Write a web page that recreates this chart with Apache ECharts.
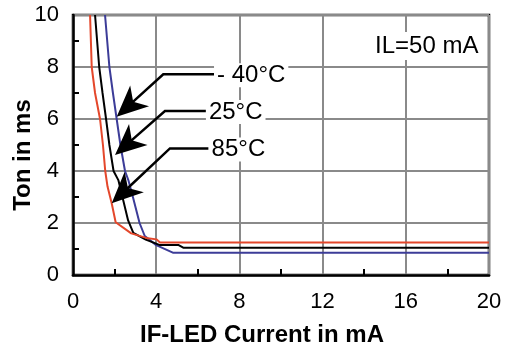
<!DOCTYPE html>
<html>
<head>
<meta charset="utf-8">
<script src="https://cdn.jsdelivr.net/npm/echarts@6/dist/echarts.min.js"></script>
<style>
html,body{margin:0;padding:0;background:#fff;}
#chart{width:505px;height:348px;}
</style>
</head>
<body>
<div id="chart"></div>
<script>
// Axis ticks
var xTicks = [0, 4, 8, 12, 16, 20];
var yTicks = [0, 2, 4, 6, 8, 10];

// Curves (IF-LED current in mA, Ton in ms)
var redX   = [0.82, 0.9, 1.06, 1.3, 1.44, 1.55, 1.66, 1.86, 2.05, 2.8, 3.6, 4.02, 4.18, 20];
var redY   = [10, 8, 7, 6, 5, 4, 3.4, 2.76, 2.03, 1.6, 1.41, 1.37, 1.25, 1.25];
var blackX = [1.06, 1.26, 1.42, 1.59, 1.75, 1.95, 2.18, 2.65, 2.9, 3.5, 4.18, 5.08, 5.3, 20];
var blackY = [10, 8, 7, 6, 5, 4, 3.65, 2.1, 1.62, 1.36, 1.15, 1.15, 1.05, 1.05];
var blueX  = [1.54, 1.75, 1.92, 2.1, 2.28, 2.5, 2.66, 2.88, 3.2, 3.45, 4.0, 4.8, 20];
var blueY  = [10, 8, 7, 6, 5, 4, 3.65, 3, 2, 1.5, 1.15, 0.86, 0.86];

// Annotations: label, arrow tip, elbow, end of horizontal leader (data coords)
var annLabels = ['- 40°C', '25°C', '85°C'];
var annTip    = [[2.10, 6.09], [2.02, 4.62], [1.86, 2.76]];
var annElbow  = [[4.34, 7.72], [4.42, 6.31], [4.66, 4.87]];
var annEnd    = [[6.78, 7.72], [6.39, 6.31], [6.52, 4.87]];

var condText = 'IL=50 mA';
var xTitle = 'IF-LED Current in mA';
var yTitle = 'Ton in ms';

var FONT = '"Liberation Sans", Arial, sans-serif';

function pairs(xs, ys) { return xs.map(function (x, i) { return [x, ys[i]]; }); }

function renderAnnotation(params, api) {
  var i = api.value(0);
  var T = api.coord(annTip[i]);
  var E = api.coord(annElbow[i]);
  var H = api.coord(annEnd[i]);
  var dx = T[0] - E[0], dy = T[1] - E[1];
  var len = Math.sqrt(dx * dx + dy * dy);
  var ux = dx / len, uy = dy / len;       // toward tip
  var nx = -uy, ny = ux;                  // normal
  var L = 31, W = 14, notch = 0.72;
  var B = [T[0] - ux * L, T[1] - uy * L];
  var N = [T[0] - ux * L * notch, T[1] - uy * L * notch];
  var b1 = [B[0] + nx * W, B[1] + ny * W];
  var b2 = [B[0] - nx * W, B[1] - ny * W];
  var lineEnd = [T[0] - ux * L * 0.6, T[1] - uy * L * 0.6];
  return {
    type: 'group',
    children: [
      { type: 'polyline', shape: { points: [H, E, lineEnd] },
        style: { stroke: '#000', lineWidth: 2.5, fill: null } },
      { type: 'polygon', shape: { points: [T, b1, N, b2] },
        style: { fill: '#000', stroke: null } },
      { type: 'text', x: H[0], y: H[1] + 1,
        style: { text: annLabels[i], fontSize: 24, fill: '#000', fontFamily: FONT,
                 align: 'left', verticalAlign: 'middle',
                 backgroundColor: '#fff', padding: [0, 3, 0, 3] } }
    ]
  };
}

var chart = echarts.init(document.getElementById('chart'), null, { renderer: 'canvas' });
chart.setOption({
  animation: false,
  backgroundColor: '#fff',
  grid: { left: 73, right: 16, top: 15, bottom: 73, show: true,
          borderColor: '#000', borderWidth: 2.5, backgroundColor: 'transparent' },
  xAxis: {
    type: 'value', min: xTicks[0], max: xTicks[xTicks.length - 1], interval: 4,
    axisLine: { show: true, lineStyle: { color: '#000', width: 2.5 } },
    axisTick: { show: false, inside: true },
    minorTick: { show: true, splitNumber: 2, length: 6, lineStyle: { color: '#000', width: 2 } },
    splitLine: { show: true, lineStyle: { color: '#8a8a8a', width: 2 } },
    axisLabel: { fontSize: 22, color: '#000', fontFamily: FONT, margin: 16 }
  },
  yAxis: {
    type: 'value', min: yTicks[0], max: yTicks[yTicks.length - 1], interval: 2,
    axisLine: { show: true, lineStyle: { color: '#000', width: 2.5 } },
    axisTick: { show: false, inside: true },
    minorTick: { show: true, splitNumber: 2, length: 6, lineStyle: { color: '#000', width: 2 } },
    splitLine: { show: true, lineStyle: { color: '#8a8a8a', width: 2 } },
    axisLabel: { fontSize: 22, color: '#000', fontFamily: FONT, margin: 14 }
  },
  series: [
    { type: 'line', name: '-40', data: pairs(blueX, blueY), showSymbol: false, symbol: 'none',
      lineStyle: { color: '#3c3c98', width: 2 }, z: 3 },
    { type: 'line', name: '25', data: pairs(blackX, blackY), showSymbol: false, symbol: 'none',
      lineStyle: { color: '#000', width: 2 }, z: 4 },
    { type: 'line', name: '85', data: pairs(redX, redY), showSymbol: false, symbol: 'none',
      lineStyle: { color: '#e4472b', width: 2 }, z: 5 },
    { type: 'custom', name: 'annotations', silent: true, z: 10,
      data: annLabels.map(function (l, i) { return [i]; }),
      encode: { x: -1, y: -1 },
      renderItem: renderAnnotation }
  ],
  graphic: [
    { type: 'text', left: 372, top: 32, z: 100,
      style: { text: condText, fontSize: 24, fill: '#000', fontFamily: FONT,
               backgroundColor: '#fff', padding: [2, 3, 2, 3] } },
    { type: 'text', x: 262, y: 335, z: 100,
      style: { text: xTitle, fontSize: 24, fontWeight: 'bold', fill: '#000', fontFamily: FONT,
               align: 'center', verticalAlign: 'middle' } },
    { type: 'text', x: 23, y: 155, rotation: Math.PI / 2, z: 100,
      style: { text: yTitle, fontSize: 24, fontWeight: 'bold', fill: '#000', fontFamily: FONT,
               align: 'center', verticalAlign: 'middle' } }
  ]
});
</script>
</body>
</html>
